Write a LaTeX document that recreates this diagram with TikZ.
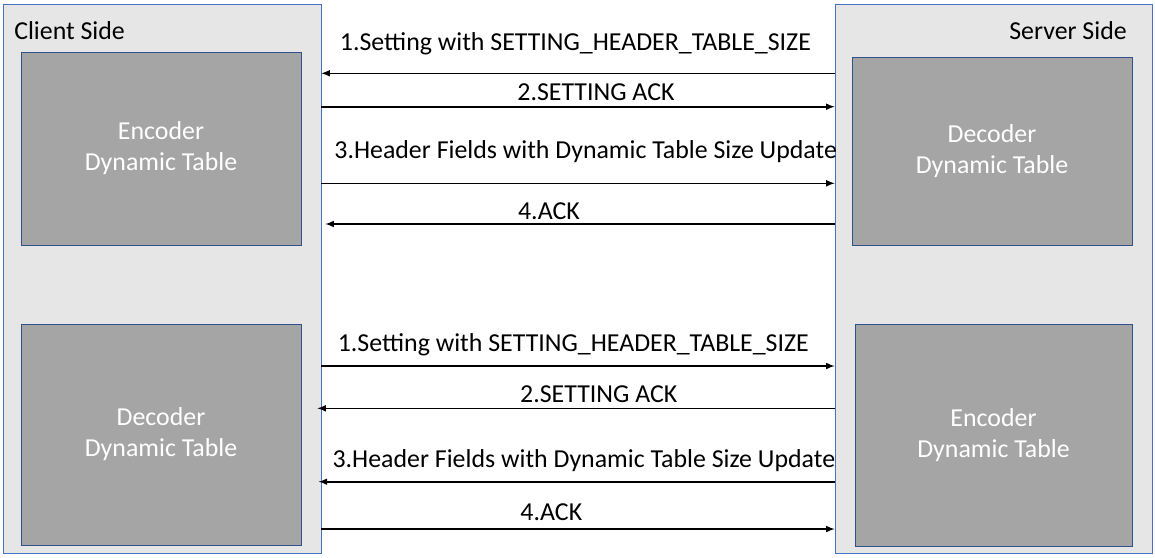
\documentclass[tikz,border=0pt]{standalone}
\usepackage{fontspec}
\setmainfont{Carlito}
\usetikzlibrary{positioning,calc,arrows}
\definecolor{sidegray}{RGB}{231,230,230}
\definecolor{sideblue}{RGB}{68,114,196}
\definecolor{tablegray}{RGB}{165,165,165}
\definecolor{tableblue}{RGB}{47,82,143}
\newcommand{\pxu}{0.75pt}
\tikzstyle{side}=[draw=sideblue,fill=sidegray,thin,inner sep=0,minimum height=549*\pxu]
\tikzstyle{dyntable}=[draw=tableblue,fill=tablegray,thin,text=white,align=center,inner sep=0,font=\fontsize{19.4}{23.3}\selectfont]
\tikzstyle{msg}=[inner sep=0,anchor=base,font=\fontsize{19.4}{23}\selectfont]
\tikzstyle{arr}=[-latex,line width=1.2pt]

\begin{document}
\begin{tikzpicture}[x=\pxu,y=-\pxu]
      \useasboundingbox (0,0) rectangle (1155,557);
      \node (client) at (162,278.5) [side, minimum width=318*\pxu] {};
      \node (server) at (993.5,278.5) [side, minimum width=317*\pxu] {};
      \node (clientlbl) at (14,39) [msg, anchor=base west] {Client Side};
      \node (serverlbl) at (1127,39) [msg, anchor=base east] {Server Side};

      \node (encC) at (161,148.5) [dyntable, minimum width=280*\pxu, minimum height=193*\pxu] {Encoder\\Dynamic Table};
      \node (decS) at (992,151) [dyntable, minimum width=280*\pxu, minimum height=188*\pxu] {Decoder\\Dynamic Table};
      \node (decC) at (161,434.5) [dyntable, minimum width=280*\pxu, minimum height=221*\pxu] {Decoder\\Dynamic Table};
      \node (encS) at (993.5,435) [dyntable, minimum width=277*\pxu, minimum height=222*\pxu] {Encoder\\Dynamic Table};

      % client encodes, server decodes
      \coordinate (t1) at (0,73.3);
      \coordinate (t2) at (0,106.7);
      \coordinate (t3) at (0,183.3);
      \coordinate (t4) at (0,224);
      \draw[arr] (server.west |- t1) -- node[msg, pos=.505, yshift=17pt] {1.Setting with SETTING\_HEADER\_TABLE\_SIZE} (client.east |- t1);
      \draw[arr] (client.east |- t2) -- node[msg, pos=.535, yshift=4.8pt] {2.SETTING ACK} (server.west |- t2);
      \draw[arr] (client.east |- t3) -- node[msg, pos=.515, yshift=18.8pt] {3.Header Fields with Dynamic Table Size Update} (server.west |- t3);
      \draw[arr] (server.west |- t4) -- node[msg, pos=.561, yshift=3.2pt] {4.ACK} ([xshift=3pt]client.east |- t4);

      % server encodes, client decodes
      \coordinate (b1) at (0,366);
      \coordinate (b2) at (0,408.3);
      \coordinate (b3) at (0,481.7);
      \coordinate (b4) at (0,529);
      \draw[arr] (client.east |- b1) -- node[msg, pos=.491, yshift=10.8pt] {1.Setting with SETTING\_HEADER\_TABLE\_SIZE} (server.west |- b1);
      \draw[arr] (server.west |- b2) -- node[msg, pos=.456, yshift=4pt] {2.SETTING ACK} ([xshift=-3pt]client.east |- b2);
      \draw[arr] (server.west |- b3) -- node[msg, pos=.486, yshift=11pt] {3.Header Fields with Dynamic Table Size Update} ([xshift=-2pt]client.east |- b3);
      \draw[arr] (client.east |- b4) -- node[msg, pos=.448, yshift=6.5pt] {4.ACK} (server.west |- b4);
\end{tikzpicture}
\end{document}
